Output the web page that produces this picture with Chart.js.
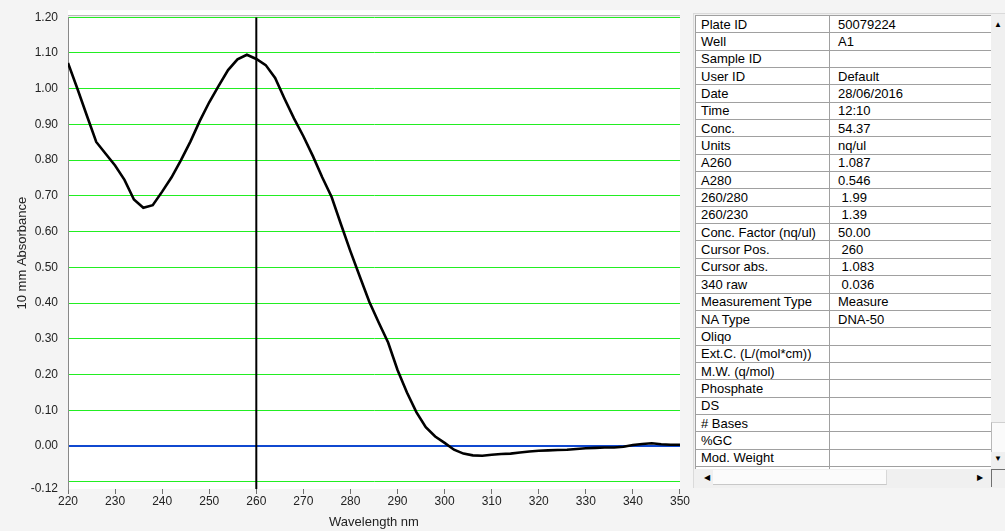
<!DOCTYPE html>
<html>
<head>
<meta charset="utf-8">
<script src="https://cdn.jsdelivr.net/npm/chart.js@4.4.1/dist/chart.umd.min.js"></script>
<style>
  html, body { margin: 0; padding: 0; }
  body { width: 1005px; height: 531px; background: #f4f4f4; position: relative; overflow: hidden;
         font-family: "Liberation Sans", Arial, sans-serif; }
  #wrap { position: absolute; left: 0; top: 0; width: 690px; height: 531px; }
  #grid { position: absolute; left: 693px; top: 13px; width: 312px; height: 475px;
          background: #f0f0f0; border-left: 1px solid #dadada; border-top: 1px solid #dadada; box-sizing: border-box; }
  #cells { position: absolute; left: 1px; top: 1px; width: 297px; height: 454px; overflow: hidden; background: #fff; }
  #cells table { border-collapse: collapse; table-layout: fixed; width: 297px; font-size: 13px; color: #000; }
  #cells td { border: 1px solid #a0a0a0; padding: 0 0 0 5px; height: 16.35px; line-height: 15px;
              white-space: pre; overflow: hidden; }
  #cells td.v { padding-left: 8px; }
  #vscroll { position: absolute; left: 297px; top: 1px; width: 14px; height: 454px; background: #f0f0f0; }
  #vscroll .up, #vscroll .down { position: absolute; left: 3px; font-size: 8px; line-height: 8px; color: #000; }
  #vscroll .up { top: 6px; }
  #vscroll .down { top: 440px; }
  #vscroll .thumb { position: absolute; left: 0; top: 407px; width: 14px; height: 30px; background: #fafafa;
                    border-left: 1px solid #b8b8b8; border-top: 1px solid #d0d0d0; box-sizing: border-box; }
  #hscroll { position: absolute; left: 1px; top: 455px; width: 296px; height: 18px; background: #f0f0f0; }
  #hscroll .left, #hscroll .right { position: absolute; top: 5px; font-size: 8px; line-height: 8px; color: #000; }
  #hscroll .left { left: 9px; }
  #hscroll .right { left: 282px; }
  #hscroll .thumb { position: absolute; left: 18px; top: 1px; width: 174px; height: 15px; background: #fbfbfb;
                    border-bottom: 1px solid #c8c8c8; border-right: 1px solid #d8d8d8; box-sizing: border-box; }
  #corner { position: absolute; left: 297px; top: 455px; width: 14px; height: 18px;
            border-left: 1px solid #707070; border-top: 1px solid #707070; box-sizing: border-box; background: #f0f0f0; }
</style>
</head>
<body>
<div id="wrap"><canvas id="spectrum" width="690" height="531"></canvas></div>
<div id="grid">
  <div id="cells"><table id="info"><colgroup><col style="width:134px"><col style="width:163px"></colgroup><tbody></tbody></table></div>
  <div id="vscroll"><span class="up">&#9650;</span><div class="thumb"></div><span class="down">&#9660;</span></div>
  <div id="hscroll"><span class="left">&#9664;</span><div class="thumb"></div><span class="right">&#9654;</span></div>
  <div id="corner"></div>
</div>
<script>
// spectrum, 2 nm steps
const wavelengths = [220, 222, 224, 226, 228, 230, 232, 234, 236, 238, 240, 242, 244, 246, 248, 250, 252, 254, 256, 258,
    260, 262, 264, 266, 268, 270, 272, 274, 276, 278, 280, 282, 284, 286, 288, 290, 292, 294, 296, 298,
    300, 302, 304, 306, 308, 310, 312, 314, 316, 318, 320, 322, 324, 326, 328, 330, 332, 334, 336, 338,
    340, 342, 344, 346, 348, 350];
const absorbance = [1.072, 1.000, 0.925, 0.851, 0.818, 0.785, 0.745, 0.690, 0.667, 0.674, 0.712, 0.752, 0.800, 0.852, 0.910, 0.962, 1.008, 1.052, 1.082, 1.095,
    1.083, 1.066, 1.030, 0.972, 0.917, 0.867, 0.812, 0.752, 0.697, 0.620, 0.545, 0.474, 0.404, 0.346, 0.290, 0.213, 0.150, 0.095, 0.053, 0.027,
    0.009, -0.010, -0.021, -0.026, -0.027, -0.024, -0.022, -0.021, -0.018, -0.015, -0.013, -0.012, -0.011, -0.010, -0.008, -0.006, -0.005, -0.004, -0.004, -0.002,
    0.003, 0.006, 0.008, 0.005, 0.004, 0.004];
const cursorPos = 260;

const yTicks = [-0.12, -0.10, 0.00, 0.10, 0.20, 0.30, 0.40, 0.50, 0.60, 0.70, 0.80, 0.90, 1.00, 1.10, 1.20];
const yUnlabeled = [-0.10];
const xTicks = [220, 230, 240, 250, 260, 270, 280, 290, 300, 310, 320, 330, 340, 350];

// results grid
const fieldNames = ["Plate ID", "Well", "Sample ID", "User ID", "Date", "Time", "Conc.", "Units", "A260", "A280",
    "260/280", "260/230", "Conc. Factor (nq/ul)", "Cursor Pos.", "Cursor abs.", "340 raw", "Measurement Type", "NA Type",
    "Oliqo", "Ext.C. (L/(mol*cm))", "M.W. (q/mol)", "Phosphate", "DS", "# Bases", "%GC", "Mod. Weight", "Serial No."];
const fieldValues = ["50079224", "A1", "", "Default", "28/06/2016", "12:10", "54.37", "nq/ul", "1.087", "0.546",
    " 1.99", " 1.39", "50.00", " 260", " 1.083", " 0.036", "Measure", "DNA-50",
    "", "", "", "", "", "", "", "", "NPD00000000000000"];

const tbody = document.querySelector("#info tbody");
fieldNames.forEach(function (name, i) {
    const tr = document.createElement("tr");
    const a = document.createElement("td");
    a.textContent = name;
    const b = document.createElement("td");
    b.className = "v";
    b.textContent = fieldValues[i];
    tr.appendChild(a);
    tr.appendChild(b);
    tbody.appendChild(tr);
});

const plotBg = {
    id: 'plotBg',
    beforeDraw(chart) {
        const ctx = chart.ctx;
        const a = chart.chartArea;
        ctx.save();
        ctx.fillStyle = '#ffffff';
        ctx.fillRect(a.left, a.top - 7, a.right - a.left, a.bottom - a.top + 7);
        ctx.strokeStyle = '#a8a8a8';
        ctx.lineWidth = 1;
        ctx.beginPath();
        ctx.moveTo(a.left, a.top - 1.5);
        ctx.lineTo(a.right, a.top - 1.5);
        ctx.stroke();
        ctx.restore();
    }
};

const tickFont = { family: "'Liberation Sans', Arial, sans-serif", size: 12 };
const titleFont = { family: "'Liberation Sans', Arial, sans-serif", size: 13 };

new Chart(document.getElementById("spectrum"), {
    type: 'line',
    data: {
        datasets: [{
            data: wavelengths.map((w, i) => ({ x: w, y: absorbance[i] })),
            borderColor: '#000000',
            borderWidth: 2.6,
            pointRadius: 0,
            tension: 0,
            fill: false
        }, {
            data: [{ x: cursorPos, y: yTicks[0] }, { x: cursorPos, y: yTicks[yTicks.length - 1] }],
            borderColor: '#000000',
            borderWidth: 2,
            pointRadius: 0,
            fill: false
        }]
    },
    options: {
        responsive: false,
        animation: false,
        layout: { padding: { left: 0, right: 9, top: 15, bottom: 0 } },
        plugins: {
            legend: { display: false },
            tooltip: { enabled: false }
        },
        scales: {
            x: {
                type: 'linear',
                min: 220,
                max: 350,
                afterBuildTicks: scale => { scale.ticks = xTicks.map(v => ({ value: v })); },
                afterFit: scale => { scale.height = 42; },
                grid: {
                    drawOnChartArea: false,
                    drawTicks: true,
                    tickLength: 5,
                    color: '#707070'
                },
                border: { display: false },
                ticks: { color: '#222', font: tickFont, padding: 0, maxRotation: 0 },
                title: {
                    display: true,
                    text: 'Wavelength nm',
                    color: '#222',
                    font: titleFont,
                    padding: { top: 0, bottom: 1 }
                }
            },
            y: {
                min: -0.12,
                max: 1.2,
                afterBuildTicks: scale => { scale.ticks = yTicks.map(v => ({ value: v })); },
                afterFit: scale => { scale.width = 68; },
                grid: {
                    drawTicks: false,
                    color: ctx => {
                        const v = ctx.tick.value;
                        if (Math.abs(v) < 1e-9) return '#1048d0';
                        if (Math.abs(v - yTicks[0]) < 1e-9) return 'rgba(0,0,0,0)';
                        return '#22ee22';
                    },
                    lineWidth: ctx => (Math.abs(ctx.tick.value) < 1e-9 ? 2 : 1)
                },
                border: { display: true, color: '#888888', width: 1 },
                ticks: {
                    color: '#222',
                    font: tickFont,
                    padding: 10,
                    callback: v => (yUnlabeled.some(u => Math.abs(u - v) < 1e-9) ? '' : v.toFixed(2))
                },
                title: {
                    display: true,
                    text: '10 mm Absorbance',
                    color: '#222',
                    font: titleFont,
                    padding: { top: 15, bottom: 0 }
                }
            }
        }
    },
    plugins: [plotBg]
});
</script>
</body>
</html>
